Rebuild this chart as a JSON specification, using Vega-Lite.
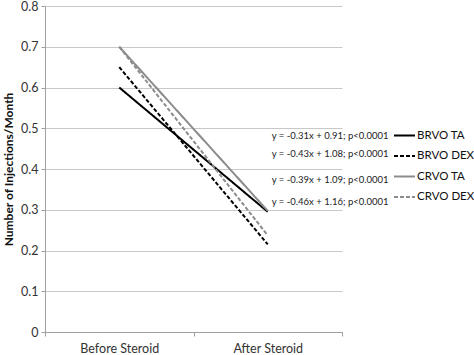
{
  "$schema": "https://vega.github.io/schema/vega-lite/v6.json",
  "width": 297,
  "height": 326,
  "autosize": "none",
  "padding": {"left": 45, "top": 6, "right": 132, "bottom": 23},
  "background": "white",
  "config": {
    "view": {"stroke": null},
    "font": "Lato",
    "axis": {"labelFont": "Lato", "titleFont": "Lato", "labelColor": "#333333", "titleColor": "#111111"}
  },
  "datasets": {
    "lines": [
      {"series": "BRVO TA", "time": "Before Steroid", "value": 0.6},
      {"series": "BRVO TA", "time": "After Steroid", "value": 0.295},
      {"series": "BRVO DEX", "time": "Before Steroid", "value": 0.65},
      {"series": "BRVO DEX", "time": "After Steroid", "value": 0.215},
      {"series": "CRVO TA", "time": "Before Steroid", "value": 0.7},
      {"series": "CRVO TA", "time": "After Steroid", "value": 0.297},
      {"series": "CRVO DEX", "time": "Before Steroid", "value": 0.7},
      {"series": "CRVO DEX", "time": "After Steroid", "value": 0.237}
    ],
    "notes": [
      {"time": "After Steroid", "y": 0.482, "label": "y = -0.31x + 0.91; p<0.0001"},
      {"time": "After Steroid", "y": 0.437, "label": "y = -0.43x + 1.08; p<0.0001"},
      {"time": "After Steroid", "y": 0.372, "label": "y = -0.39x + 1.09; p<0.0001"},
      {"time": "After Steroid", "y": 0.320, "label": "y = -0.46x + 1.16; p<0.0001"}
    ]
  },
  "layer": [
    {
      "data": {"name": "lines"},
      "mark": {"type": "line"},
      "encoding": {
        "x": {
          "field": "time", "type": "nominal",
          "sort": ["Before Steroid", "After Steroid"],
          "scale": {"type": "band", "paddingInner": 0, "paddingOuter": 0},
          "axis": {"title": null, "labelAngle": 0, "labelFontSize": 12.5, "labelPadding": 6, "tickBand": "extent", "grid": false, "domainColor": "#a0a0a0", "tickColor": "#a0a0a0", "tickSize": 4}
        },
        "y": {
          "field": "value", "type": "quantitative",
          "scale": {"domain": [0, 0.8], "nice": false},
          "axis": {"title": "Number of Injections/Month", "titleFontSize": 12, "titleFontWeight": "bold", "titlePadding": 5, "values": [0, 0.1, 0.2, 0.3, 0.4, 0.5, 0.6, 0.7, 0.8], "labelExpr": "datum.value == 0 ? '0' : format(datum.value, '.1f')", "labelOverlap": false, "labelFontSize": 12.5, "labelPadding": 3, "gridColor": "#c8c8c8", "domainColor": "#a0a0a0", "tickColor": "#a0a0a0", "tickSize": 4}
        },
        "detail": {"field": "series"},
        "color": {
          "field": "series", "type": "nominal",
          "scale": {"domain": ["BRVO TA", "BRVO DEX", "CRVO TA", "CRVO DEX"], "range": ["#000000", "#000000", "#8c8c8c", "#8c8c8c"]},
          "legend": {"title": null, "orient": "none", "legendX": 348, "legendY": 118, "symbolType": "stroke", "symbolSize": 441, "symbolStrokeWidth": 2, "labelFontSize": 11.5, "labelColor": "#111111", "labelFont": "Lato", "rowPadding": 3.5, "labelOffset": 1, "labelLimit": 80}
        },
        "strokeDash": {
          "field": "series", "type": "nominal",
          "scale": {"domain": ["BRVO TA", "BRVO DEX", "CRVO TA", "CRVO DEX"], "range": [[1, 0], [4, 2], [1, 0], [4, 2]]},
          "legend": {"title": null}
        },
        "strokeWidth": {
          "field": "series", "type": "nominal",
          "scale": {"domain": ["BRVO TA", "BRVO DEX", "CRVO TA", "CRVO DEX"], "range": [2, 2, 1.6, 1.4]},
          "legend": null
        }
      }
    },
    {
      "data": {"name": "notes"},
      "mark": {"type": "text", "align": "left", "baseline": "middle", "dx": 4, "fontSize": 9.5, "font": "Lato", "color": "#222222"},
      "encoding": {
        "x": {"field": "time", "type": "nominal", "sort": ["Before Steroid", "After Steroid"]},
        "y": {"field": "y", "type": "quantitative"},
        "text": {"field": "label"}
      }
    }
  ]
}
